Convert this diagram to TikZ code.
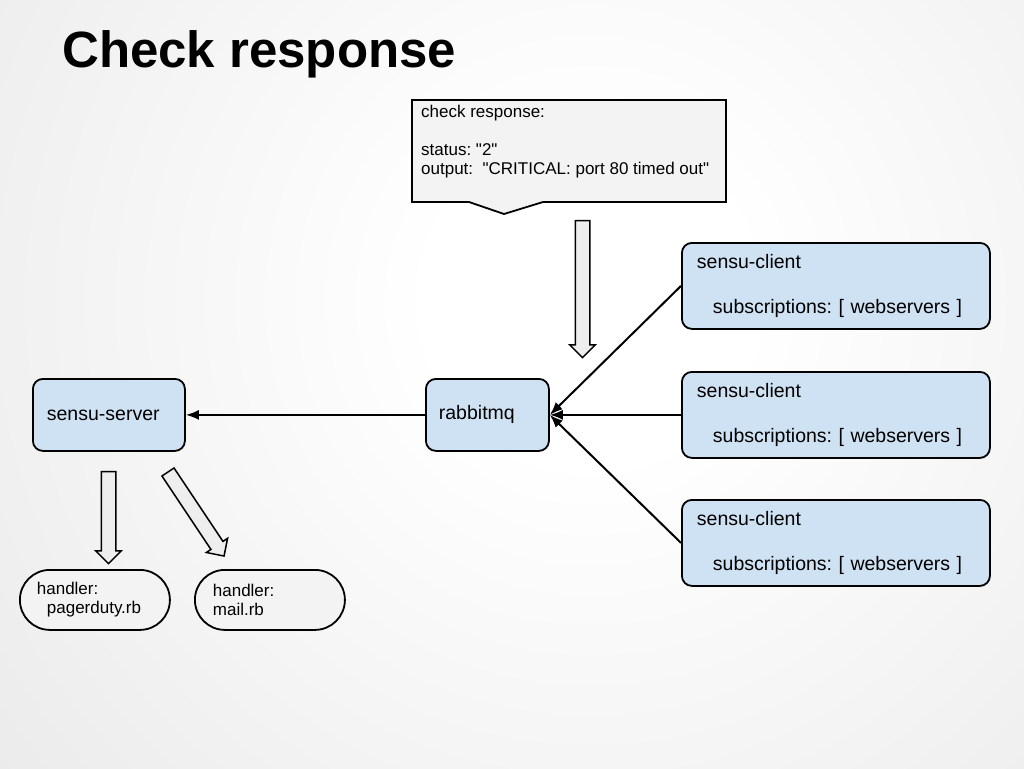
\documentclass[tikz,border=0pt]{standalone}
\usepackage{fontspec}
\setmainfont{Liberation Sans}[Ligatures=TeXOff]
\usetikzlibrary{shapes.arrows,arrows.meta}
\definecolor{boxblue}{HTML}{CFE2F3}
\definecolor{boxgray}{HTML}{F3F3F3}
\definecolor{arrowgray}{HTML}{EEEEEE}
\definecolor{bgedge}{HTML}{CFCFCF}
\pgfdeclareradialshading{slidebg}{\pgfpoint{0bp}{0bp}}{color(0bp)=(white); color(5bp)=(white); color(50bp)=(bgedge)}

\begin{document}
\frenchspacing
\begin{tikzpicture}[x=1pt, y=-1pt,
	bluebox/.style = {draw, line width=1.8pt, fill=boxblue, rounded corners=10pt, anchor=north west, align=left, inner ysep=0pt, font=\fontsize{19.5}{22.5}\selectfont},
	handlerbox/.style = {draw, line width=1.8pt, fill=boxgray, rounded corners=30pt, anchor=north west, align=left, inner ysep=0pt, minimum width=150, minimum height=60, font=\fontsize{17}{19}\selectfont},
	blockarrow/.style = {single arrow, draw, line width=1.5pt, fill=arrowgray, inner xsep=0pt, inner ysep=6.5pt, minimum width=0pt, single arrow head extend=5.5pt},
	conn/.style = {line width=2pt, -{Latex[length=13pt,width=10pt]}}]
	\useasboundingbox (0,0) rectangle (1024,768);
	\begin{scope}
		\clip (0,0) rectangle (1024,768);
		\shade[shading=slidebg] (590,300) circle (800);
	\end{scope}
	% title
	\node [anchor=base west, inner sep=0pt, font=\fontsize{51}{60}\selectfont\bfseries] (title) at (62,67) {Check response};
	% callout
	\draw [line width=1.8pt, fill=boxgray] (412,100) -- (726,100) -- (726,202) -- (543,202) -- (504,214) -- (469,202) -- (412,202) -- cycle;
	\node [anchor=north west, inner sep=0pt, align=left, font=\fontsize{17}{19}\selectfont] (callout) at (421,105) {check response:\\[19pt]status: "2"\\output:\ \ "CRITICAL: port 80 timed out"};
	\node [blockarrow, minimum height=137, rotate=-90] (pusharrow) at (582.5,285.5) {};
	% clients
	\node [bluebox, minimum width=308, minimum height=86, inner xsep=15pt, text width=278pt] (client1) at (681,242) {sensu-client\\[22.5pt]\hspace*{16pt}subscriptions: [ webservers ]};
	\node [bluebox, minimum width=308, minimum height=86, inner xsep=15pt, text width=278pt] (client2) at (681,371) {sensu-client\\[22.5pt]\hspace*{16pt}subscriptions: [ webservers ]};
	\node [bluebox, minimum width=308, minimum height=86, inner xsep=15pt, text width=278pt] (client3) at (681,499) {sensu-client\\[22.5pt]\hspace*{16pt}subscriptions: [ webservers ]};
	% server side
	\node [bluebox, minimum width=123, minimum height=72, inner xsep=13pt, text width=97pt] (rabbit) at (425,378) {rabbitmq};
	\node [bluebox, minimum width=152, minimum height=72, inner xsep=14pt, text width=124pt] (server) at (32,378) {sensu-server};
	\draw [conn] (client1.west) -- (rabbit.east);
	\draw [conn] (client2.west) -- (rabbit.east);
	\draw [conn] (client3.west) -- (rabbit.east);
	\draw [conn] (rabbit.west) -- (server.east);
	% handlers
	\node [blockarrow, minimum height=92, rotate=-90] (pagerarrow) at (108.5,514) {};
	\node [blockarrow, minimum height=101, rotate=-56.3] (mailarrow) at (194,511) {};
	\node [handlerbox, inner xsep=17pt, text width=116pt] (pagerduty) at (19,569) {handler:\\\hspace*{10pt}pagerduty.rb};
	\node [handlerbox, inner xsep=18pt, text width=114pt] (mail) at (194,569) {handler:\\mail.rb};
\end{tikzpicture}
\end{document}
